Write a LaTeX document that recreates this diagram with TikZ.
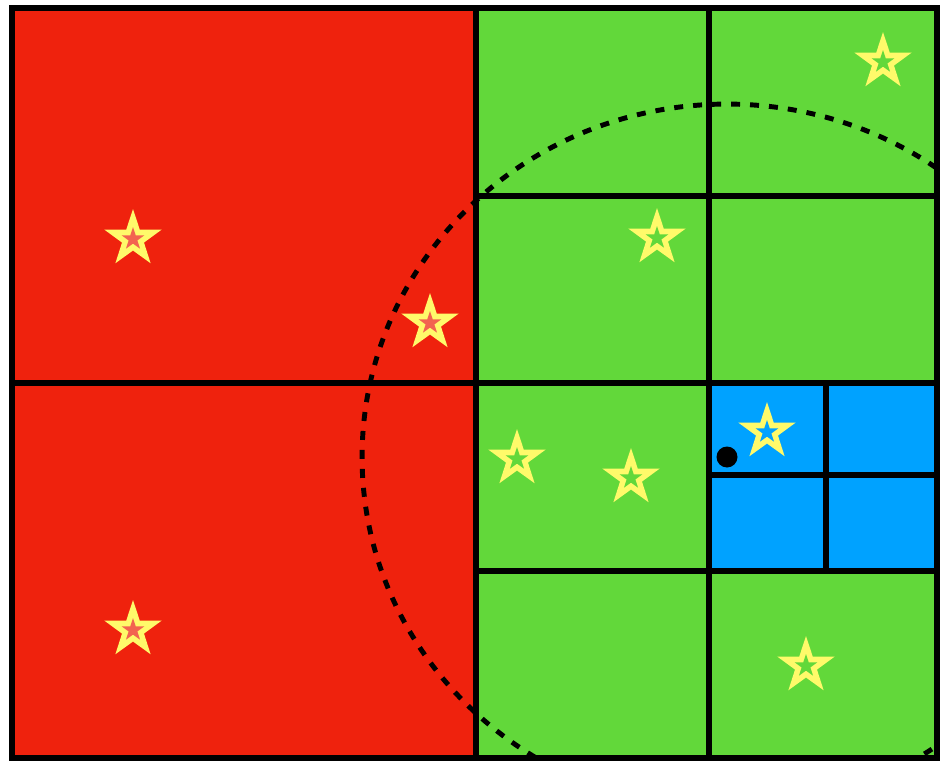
\documentclass[tikz,border=0pt]{standalone}
\usepackage{xcolor}
\usepackage{tikz}
\usetikzlibrary{shapes.geometric}
\definecolor{cellred}{HTML}{EF220D}
\definecolor{cellgreen}{HTML}{62D83A}
\definecolor{cellblue}{HTML}{00A2FF}
\definecolor{staryellow}{HTML}{FFFA6A}
\definecolor{starred}{HTML}{F26450}
\newcommand{\sitestar}[3]{%
  \node[outerstar] (#1) at (#2) {};
  \node[innerstar,fill=#3] (#1in) at (#2) {};}

\begin{document}
\begin{tikzpicture}[x=0.02cm,y=-0.02cm,
    gridline/.style={line width=3.4pt,line cap=rect},
    outerstar/.style={star,star points=5,star point ratio=2.6,fill=staryellow,
      minimum size=1.2cm,inner sep=0pt},
    innerstar/.style={star,star points=5,star point ratio=2.6,
      minimum size=0.48cm,inner sep=0pt}]
    \useasboundingbox (0,0) rectangle (941,761);
    % cells
    \fill[cellred] (12,8) rectangle (476,758);
    \fill[cellgreen] (476,8) rectangle (937,758);
    \fill[cellblue] (709,383) rectangle (937,571);
    % stars
    \sitestar{sa}{133,239}{starred}
    \sitestar{sb}{133,630}{starred}
    \sitestar{sc}{430,323}{starred}
    \sitestar{sd}{883,62}{cellgreen}
    \sitestar{se}{657,238}{cellgreen}
    \sitestar{sf}{517,459}{cellgreen}
    \sitestar{sg}{631,478}{cellgreen}
    \sitestar{sh}{806,666}{cellgreen}
    \sitestar{si}{767,432}{cellblue}
    % query point and its range
    \node[circle,fill=black,minimum size=0.42cm,inner sep=0pt] (query) at (727,457) {};
    \begin{scope}
      \clip (12,8) rectangle (937,758);
      \draw[line width=2.8pt,dash pattern=on 0.18cm off 0.2cm]
        (query.center) ellipse [x radius=7.3cm,y radius=7.06cm];
    \end{scope}
    % grid
    \draw[gridline] (12,383) -- (937,383);
    \draw[gridline] (476,196) -- (937,196);
    \draw[gridline] (476,571) -- (937,571);
    \draw[gridline] (709,8) -- (709,758);
    \draw[gridline] (476,8) -- (476,758);
    \draw[gridline] (826,383) -- (826,571);
    \draw[gridline] (709,475) -- (937,475);
    \draw[gridline] (12,8) rectangle (937,758);
\end{tikzpicture}
\end{document}
